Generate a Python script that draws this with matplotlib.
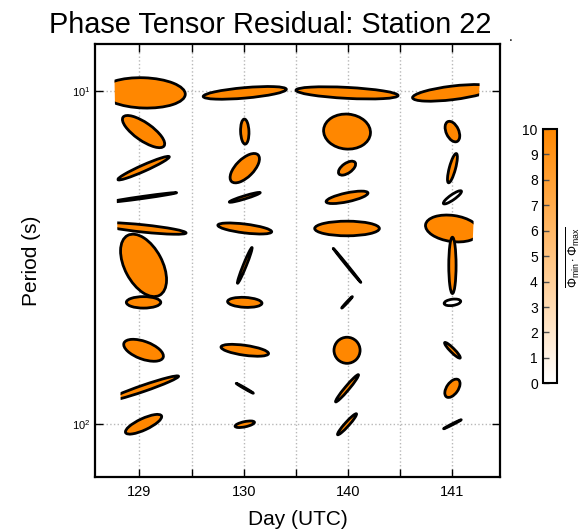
import numpy as np
import matplotlib as mpl
import matplotlib.pyplot as plt
from matplotlib.collections import EllipseCollection
from matplotlib.colors import LinearSegmentedColormap, Normalize
from matplotlib.patches import Polygon
from matplotlib.ticker import FixedLocator, NullLocator

plt.rcParams['font.family'] = ['Liberation Sans', 'DejaVu Sans']
plt.rcParams['mathtext.fontset'] = 'custom'
plt.rcParams['mathtext.rm'] = 'Liberation Sans'
plt.rcParams['mathtext.it'] = 'Liberation Sans:italic'

days = ['129', '130', '140', '141']
day_x = [0.04, 1.01, 1.99, 3.0]   # ellipse centres along the day axis
periods = [10.1, 13.2, 17.0, 20.8, 25.8, 33.3, 43.0, 59.9, 77.9, 99.9]

# ellipse major/minor axis lengths (x-axis units), angle (deg), colour value
widths_129 = [0.80, 0.48, 0.54, 0.64, 0.82, 0.65, 0.33, 0.40, 0.71, 0.38]
heights_129 = [0.29, 0.17, 0.06, 0.02, 0.07, 0.36, 0.11, 0.17, 0.06, 0.11]
angles_129 = [-2, -35, 24, 8, -6, -62, 0, -20, 19, 25]
values_129 = [10, 10, 10, 10, 10, 10, 10, 10, 10, 10]

widths_130 = [0.80, 0.24, 0.36, 0.31, 0.52, 0.37, 0.33, 0.46, 0.19, 0.19]
heights_130 = [0.10, 0.08, 0.17, 0.03, 0.085, 0.03, 0.095, 0.095, 0.01, 0.05]
angles_130 = [5, 92, 45, 17, -7, 68, -3, -8, -30, 12]
values_130 = [10, 10, 10, 10, 10, 10, 10, 10, 10, 10]

widths_140 = [0.98, 0.45, 0.19, 0.41, 0.62, 0.42, 0.15, 0.25, 0.34, 0.27]
heights_140 = [0.105, 0.335, 0.095, 0.085, 0.14, 0.01, 0.01, 0.25, 0.04, 0.04]
angles_140 = [-3, -5, 35, 12, 0, -51, 47, 0, 50, 48]
values_140 = [10, 10, 10, 10, 10, 10, 10, 10, 10, 10]

widths_141 = [0.77, 0.21, 0.29, 0.21, 0.52, 0.54, 0.16, 0.21, 0.20, 0.19]
heights_141 = [0.13, 0.12, 0.06, 0.05, 0.25, 0.07, 0.06, 0.04, 0.11, 0.01]
angles_141 = [7, -65, 75, 35, -8, 90, 8, -45, 55, 27]
values_141 = [10, 10, 10, 0, 10, 10, 0, 10, 10, 10]

widths = [widths_129, widths_130, widths_140, widths_141]
heights = [heights_129, heights_130, heights_140, heights_141]
angles = [angles_129, angles_130, angles_140, angles_141]
values = [values_129, values_130, values_140, values_141]

cmap = LinearSegmentedColormap.from_list('wh2or', [(1, 1, 1), (1.0, 0.53, 0.0)])
norm = Normalize(0, 10)

fig = plt.figure(figsize=(5.83, 5.32), dpi=100)
ax = fig.add_axes([0.163, 0.104, 0.695, 0.813])

xlo, xhi = -0.425, 3.458
ylo, yhi = 10 ** 2.157, 10 ** 0.858

offsets, ws, hs, angs, vals = [], [], [], [], []
for i in range(len(days)):
    for j, p in enumerate(periods):
        offsets.append((day_x[i], p))
        ws.append(widths[i][j])
        hs.append(heights[i][j])
        angs.append(angles[i][j])
        vals.append(values[i][j])

ax.set_xlim(xlo, xhi)
ax.set_yscale('log')
ax.set_ylim(ylo, yhi)

ec = EllipseCollection(ws, hs, angs, units='x', offsets=offsets,
                       offset_transform=ax.transData,
                       facecolors=cmap(norm(np.array(vals))),
                       edgecolors='k', linewidths=2, zorder=3)
ax.add_collection(ec)

# ellipses are cut off near the left/right edges
clip = Polygon([(-0.245, 10 ** 0.858), (3.277, 10 ** 0.858),
                (3.096, 10 ** 2.157), (-0.165, 10 ** 2.157)],
               closed=True, transform=ax.transData, visible=False)
ax.add_patch(clip)
ec.set_clip_path(clip)

ax.set_xticks(range(len(days)))
ax.set_xticklabels(days)
ax.xaxis.set_minor_locator(FixedLocator([0.5, 1.5, 2.5]))
ax.yaxis.set_major_locator(FixedLocator([10, 100]))
ax.yaxis.set_minor_locator(NullLocator())

ax.set_axisbelow(True)
ax.grid(True, which='both', axis='x', linestyle=':', color='0.72', lw=1)
ax.grid(True, which='major', axis='y', linestyle=':', color='0.72', lw=1)

ax.tick_params(which='both', direction='in', top=True, right=True,
               length=6, width=1)
ax.tick_params(axis='x', labelsize=10.5, pad=6)
ax.tick_params(axis='y', labelsize=8)
for s in ax.spines.values():
    s.set_linewidth(1.6)

ax.set_xlabel('Day (UTC)', fontsize=15, labelpad=8)
ax.set_ylabel('Period (s)', fontsize=15, labelpad=22)

fig.text(0.463, 0.938, 'Phase Tensor Residual: Station 22', ha='center',
         va='baseline', fontsize=20.8)
fig.text(0.875, 0.922, '.', ha='center', va='baseline', fontsize=10)

cax = fig.add_axes([0.932, 0.2795, 0.023, 0.478])
cb = mpl.colorbar.ColorbarBase(cax, cmap=cmap, norm=norm)
cb.set_ticks(range(0, 11))
cb.outline.set_linewidth(1.5)
cax.yaxis.set_ticks_position('left')
cax.tick_params(direction='in', length=4, width=1, color='0.3', labelsize=10, pad=4)
fig.text(0.984, 0.517, r'$\overline{\Phi_{\mathrm{min}} \cdot \Phi_{\mathrm{max}}}$',
         rotation=90, ha='center', va='center', fontsize=9)

fig.savefig('out.png', dpi=100)
